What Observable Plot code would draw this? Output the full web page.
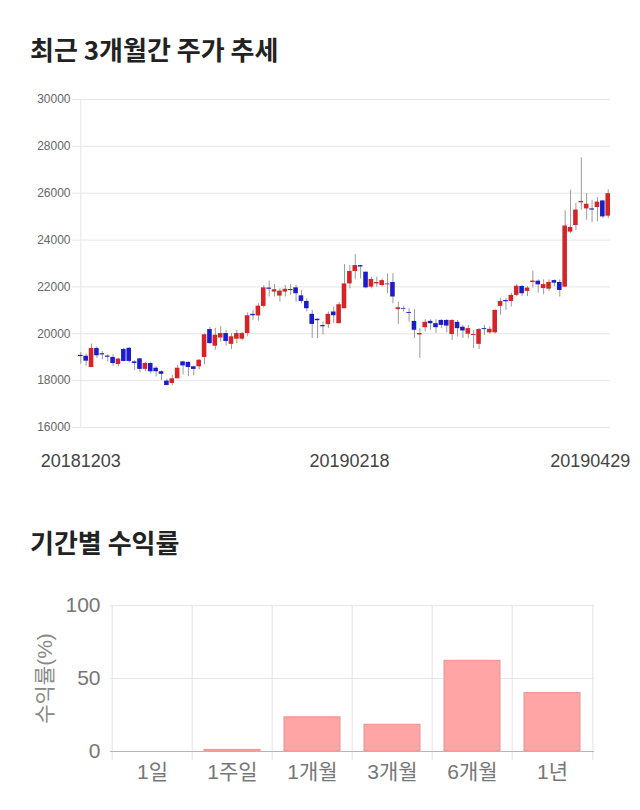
<!DOCTYPE html>
<html>
<head>
<meta charset="utf-8">
<script src="https://cdn.jsdelivr.net/npm/d3@7"></script>
<script src="https://cdn.jsdelivr.net/npm/@observablehq/plot@0.6"></script>
<style>
  body { margin: 0; background: #fff; font-family: "Liberation Sans", "Noto Sans CJK KR", sans-serif; }
  #wrap { position: relative; width: 640px; height: 810px; overflow: hidden; }
  .title { position: absolute; left: 30px; font-size: 26px; font-weight: 700; color: #222; line-height: 1;
           font-family: "Noto Sans CJK KR", sans-serif; white-space: nowrap; }
  #t1 { top: 36px; }
  #t2 { top: 529px; }
  #c1 { position: absolute; left: 0; top: 80px; }
  #c2 { position: absolute; left: 0; top: 580px; }
</style>
</head>
<body>
<div id="wrap">
  <div class="title" id="t1">최근 3개월간 주가 추세</div>
  <div id="c1"></div>
  <div class="title" id="t2">기간별 수익률</div>
  <div id="c2"></div>
</div>
<script>
// ---- Candlestick data (trading days) ----
const dates = [
  "20181203","20181204","20181205","20181206","20181207","20181210","20181211","20181212","20181213","20181214",
  "20181217","20181218","20181219","20181220","20181221","20181224","20181226","20181227","20181228",
  "20190102","20190103","20190104","20190107","20190108","20190109","20190110","20190111","20190114","20190115",
  "20190116","20190117","20190118","20190121","20190122","20190123","20190124","20190125","20190128","20190129",
  "20190130","20190131",
  "20190201","20190207","20190208","20190211","20190212","20190213","20190214","20190215","20190218","20190219",
  "20190220","20190221","20190222","20190225","20190226","20190227","20190228",
  "20190304","20190305","20190306","20190307","20190308","20190311","20190312","20190313","20190314","20190315",
  "20190318","20190319","20190320","20190321","20190322","20190325","20190326","20190327","20190328","20190329",
  "20190401","20190402","20190403","20190404","20190405","20190408","20190409","20190410","20190411","20190412",
  "20190415","20190416","20190417","20190418","20190419","20190422","20190423","20190424","20190425","20190426",
  "20190429"
];
const openP = [
  19080,19040,18560,19370,19150,19050,18990,18690,19330,19380,
  18800,18930,18480,18730,18530,18380,17980,17880,18080,18800,
  18780,18590,18590,18990,20180,19470,19820,20010,19550,19770,
  19770,20010,20830,20760,21170,21950,21780,21610,21780,21890,
  21960,21620,21380,20830,20620,20350,20390,20930,20430,21070,
  22130,22660,22910,22630,21990,22130,22060,22090,22190,21030,
  21080,20910,20530,19950,20260,20530,20430,20570,20570,19970,
  20490,20280,19980,19930,19550,20220,20040,20040,21170,21420,
  21380,21640,22020,21810,22190,22245,21930,21905,22270,22190,
  21990,24340,24620,25590,25330,25330,25390,25670,25020
];
const highP = [
  19200,19130,19560,19440,19250,19100,19100,18950,19380,19420,
  18850,18950,18780,18780,18600,18420,18060,18220,18650,18830,
  18800,18620,18900,20000,20270,20230,20320,20150,20010,20150,
  20050,20890,21000,21280,22060,22250,22100,21920,22060,22100,
  22060,21850,21490,21000,20640,20500,20930,21140,21330,22950,
  22910,23380,22910,22630,22420,22420,22340,22560,22560,21350,
  21170,21070,21030,20220,20600,20600,20600,20600,20600,20600,
  20570,20360,20360,20150,20220,20360,20290,21020,21500,21500,
  21730,22100,22060,22010,22680,22300,22300,22300,22300,22300,
  25250,26130,25560,27510,25990,25700,25810,25700,26150
];
const lowP = [
  18700,18620,18560,18950,18900,18800,18600,18600,18800,18750,
  18430,18330,18380,18290,18160,18000,17790,17780,18080,18250,
  18170,18200,18450,18680,19560,19300,19650,19470,19330,19580,
  19700,19870,20570,20540,21100,21570,21570,21350,21570,21640,
  21350,21280,20930,19800,19790,19940,20220,20430,20430,21070,
  21920,22300,22340,21920,21920,21990,21990,21710,21280,20400,
  20930,20500,19800,18950,20080,20150,20010,20220,20040,19720,
  19870,19800,19790,19380,19330,19930,19980,20000,20790,21000,
  21140,21590,21590,21590,21950,21730,21670,21810,22010,21570,
  21990,24290,24400,25280,24850,24740,24780,24920,24920
];
const closeP = [
  19030,18830,19370,19060,19100,19000,18730,18920,18820,18820,
  18730,18480,18730,18380,18380,18270,17790,18080,18530,18630,
  18560,18480,18870,19960,19580,19940,20010,19670,19870,20010,
  20010,20770,20770,21180,21960,21900,21880,21820,21900,21850,
  21710,21380,21070,20400,20560,20300,20830,20770,21240,22130,
  22660,22910,22850,21960,22320,22190,22270,22130,21570,21110,
  21050,20870,20150,20010,20490,20430,20260,20360,20330,20570,
  20220,20120,20220,19970,20180,20180,20190,21000,21380,21370,
  21640,22030,21710,21950,22250,22090,22100,22190,22160,21850,
  24600,24540,25280,25650,25530,25280,25620,24990,25980
];
const priceTicks = [16000,18000,20000,22000,24000,26000,28000,30000];
const dateLabels = ["20181203","20190218","20190429"];

// ---- Period returns ----
const periods = ["1일","1주일","1개월","3개월","6개월","1년"];
const returns = [0, 1.1, 23.4, 18.3, 62.1, 40.0];
const returnTicks = [0, 50, 100];
const returnLabel = "수익률(%)";

const FONT = '"Liberation Sans", "Noto Sans CJK KR", sans-serif';

const candles = dates.map((d, i) => ({date: d, open: openP[i], high: highP[i], low: lowP[i], close: closeP[i]}));

const chart1 = Plot.plot({
  width: 640, height: 400,
  marginTop: 19, marginBottom: 53, marginLeft: 78, marginRight: 30,
  style: {fontFamily: FONT, background: "transparent", color: "#666"},
  x: {type: "band", domain: dates, paddingInner: 0.15, paddingOuter: 0, axis: null},
  y: {domain: [16000, 30000], axis: null},
  marks: [
    Plot.ruleY(priceTicks, {stroke: "#e6e6e6", insetLeft: -6}),
    Plot.ruleX([dates[0]], {stroke: "#e6e6e6"}),
    Plot.axisY(priceTicks, {tickSize: 0, tickPadding: 8, fontSize: 12, color: "#666", tickFormat: d => String(d), label: null}),
    Plot.ruleX(candles, {x: "date", y1: "low", y2: "high", stroke: "#9a9a9a", strokeWidth: 1}),
    Plot.barY(candles, {x: "date", y1: "open", y2: "close", fill: d => d.close >= d.open ? "#d42426" : "#1c1cc8"}),
    Plot.axisX(dateLabels.slice(0, 1), {tickSize: 0, tickPadding: 27, fontSize: 18, color: "#444", label: null}),
    Plot.axisX(dateLabels.slice(1, 2), {tickSize: 0, tickPadding: 27, fontSize: 18, color: "#444", label: null, dx: 5}),
    Plot.axisX(dateLabels.slice(2), {tickSize: 0, tickPadding: 27, fontSize: 18, color: "#444", label: null, dx: -18})
  ]
});
document.getElementById("c1").appendChild(chart1);

const rets = periods.map((p, i) => ({period: p, value: returns[i]}));
const chart2 = Plot.plot({
  width: 640, height: 220,
  marginTop: 25, marginBottom: 49, marginLeft: 110, marginRight: 46,
  style: {fontFamily: FONT, background: "transparent", color: "#777"},
  x: {type: "band", domain: periods, paddingInner: 0.3, paddingOuter: 0.15, axis: null},
  y: {domain: [0, 100], axis: null},
  marks: [
    Plot.ruleY(returnTicks.slice(1), {stroke: "#e6e6e6"}),
    Plot.ruleX(periods, {x: d => d, dx: -40.33, stroke: "#e3e3e3", insetBottom: -9}),
    Plot.ruleX(periods.slice(-1), {x: d => d, dx: 40.33, stroke: "#e3e3e3", insetBottom: -9}),
    Plot.barY(rets, {x: "period", y: "value", fill: "#ffa5a5", stroke: "#f09090", strokeWidth: 1}),
    Plot.ruleY([0], {stroke: "#b5b5b5"}),
    Plot.axisY(returnTicks, {tickSize: 0, tickPadding: 10, fontSize: 21, color: "#777", label: null}),
    Plot.axisX(periods, {tickSize: 0, tickPadding: 13, fontSize: 21, color: "#777", label: null}),
    Plot.text([returnLabel], {frameAnchor: "left", textAnchor: "middle", rotate: -90, dx: -65, fontSize: 21, fill: "#888"})
  ]
});
document.getElementById("c2").appendChild(chart2);
</script>
</body>
</html>
